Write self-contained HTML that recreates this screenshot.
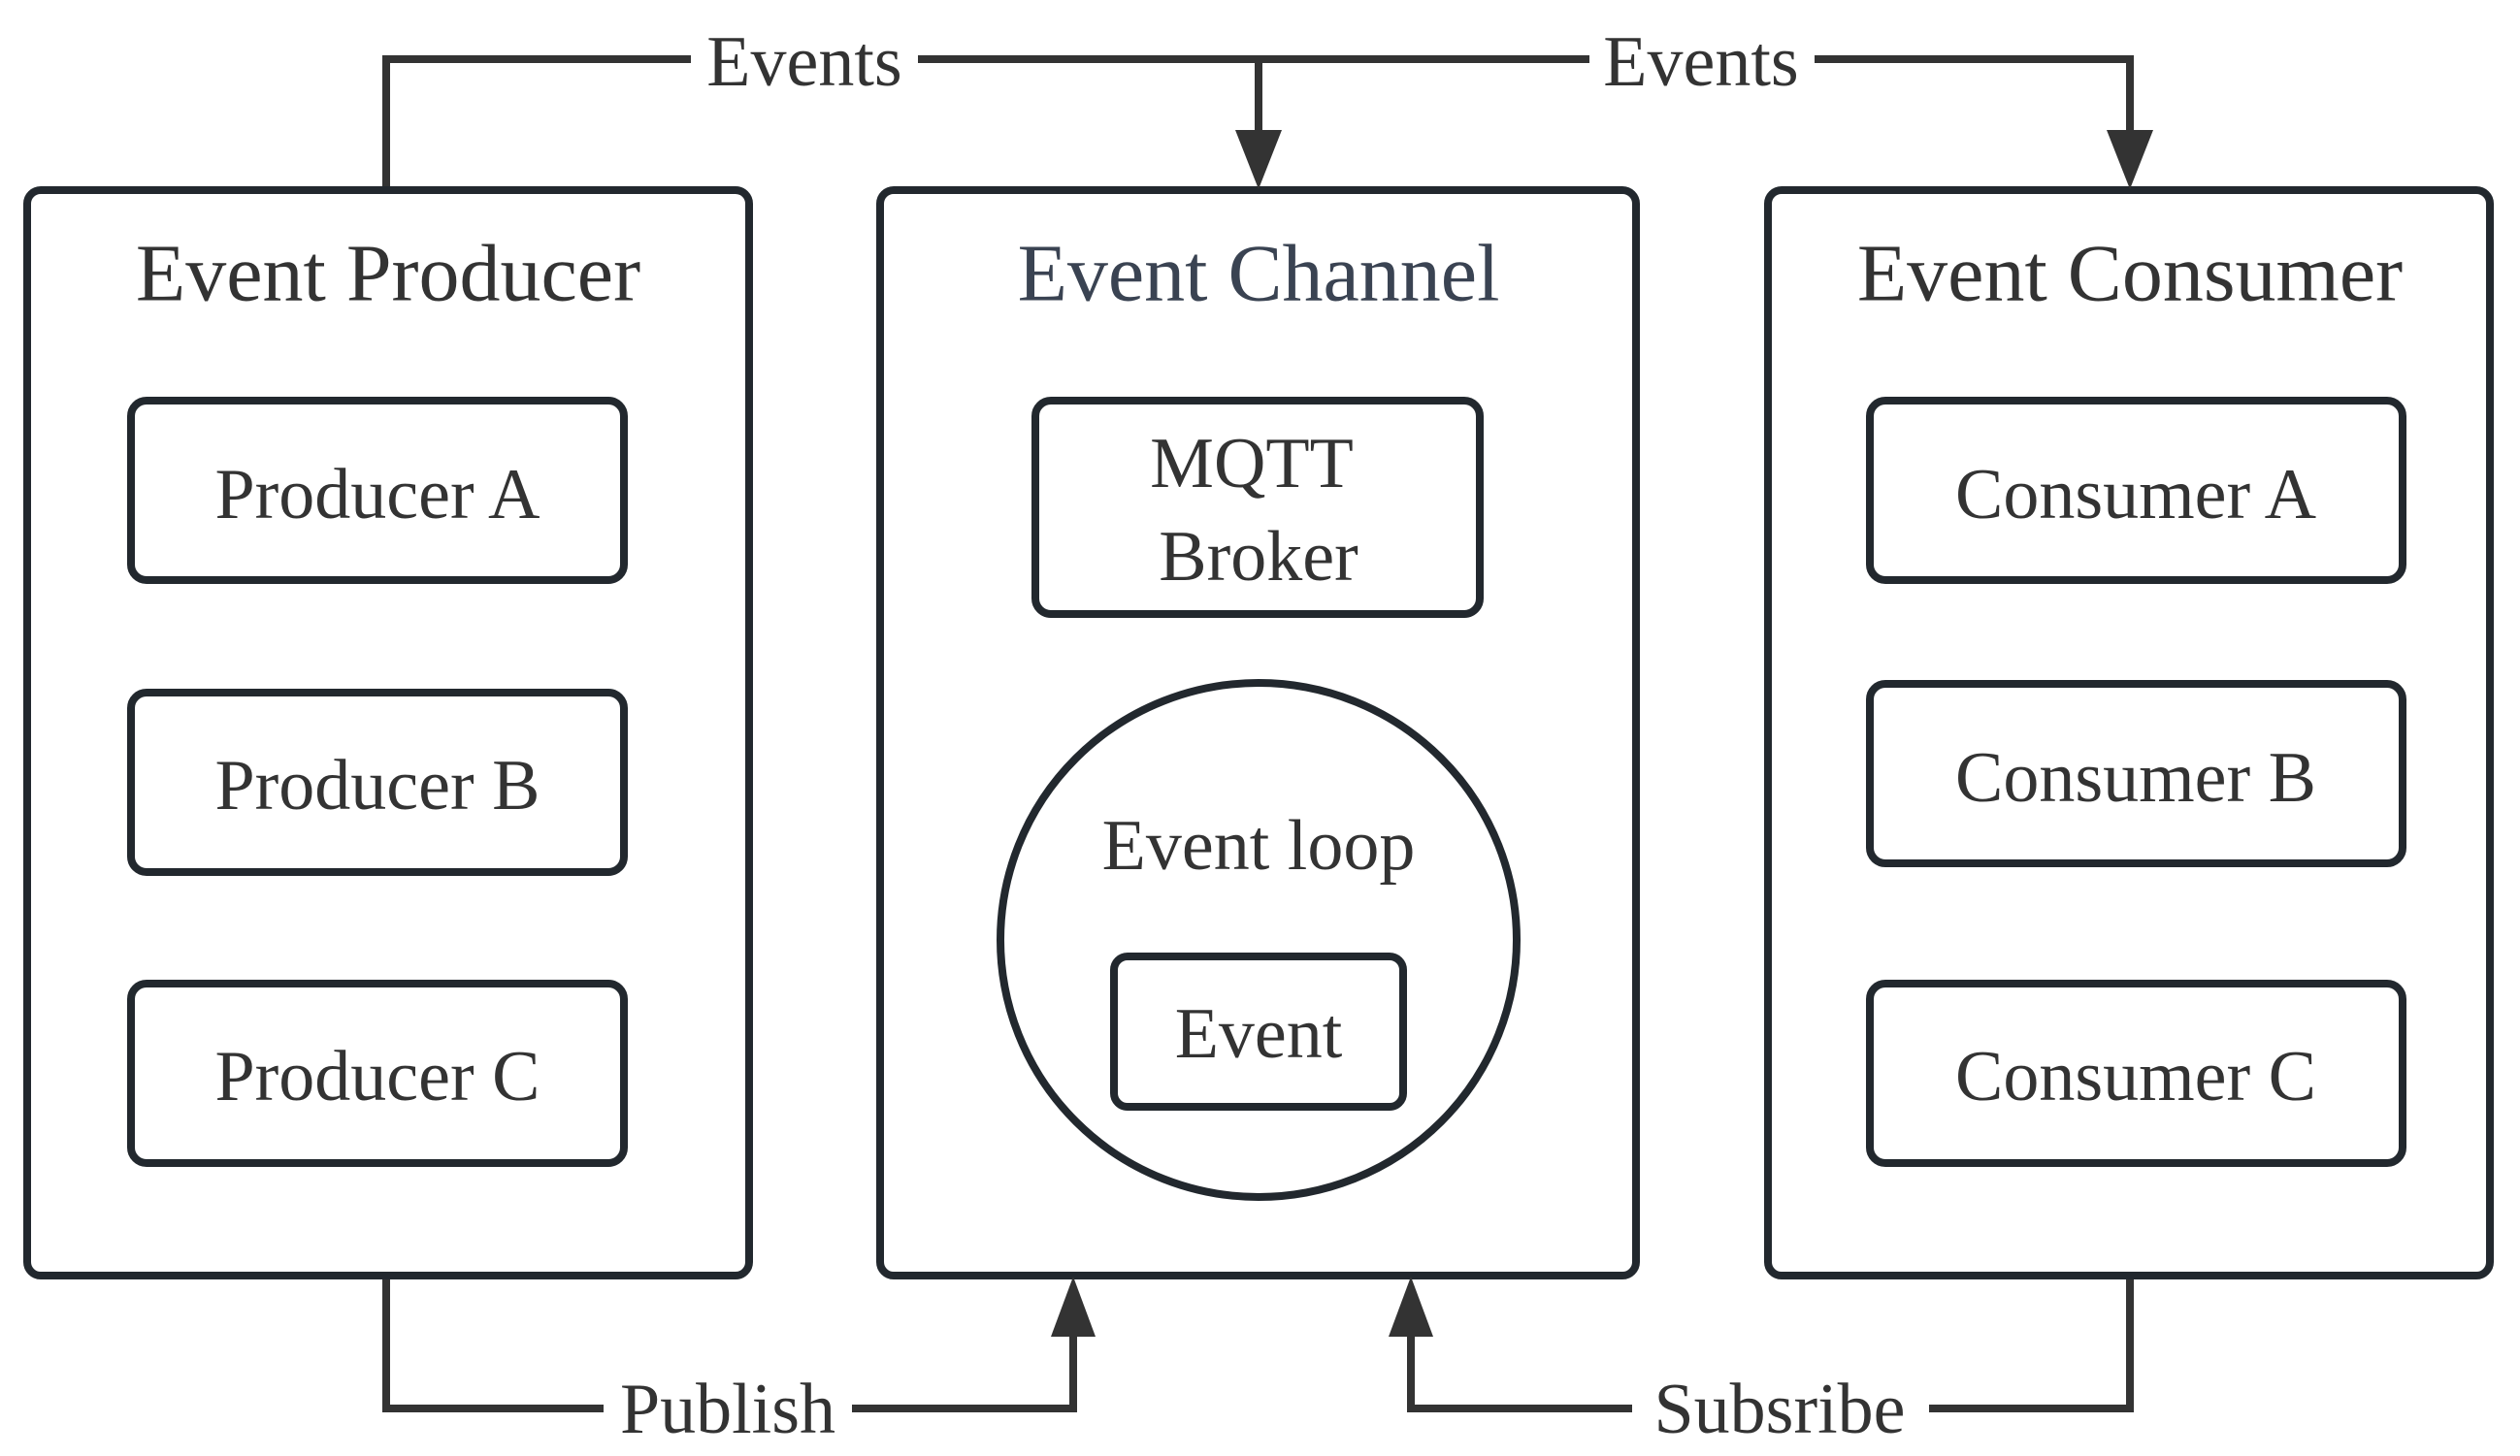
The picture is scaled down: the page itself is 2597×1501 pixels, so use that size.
<!DOCTYPE html>
<html><head><meta charset="utf-8"><style>
html,body{margin:0;padding:0;background:#fff;}
svg{display:block;}
text{font-family:"Liberation Serif","Times New Roman","DejaVu Serif",serif;fill:#333;text-anchor:middle;dominant-baseline:central;}
</style></head><body>
<svg width="2597" height="1501" viewBox="0 0 2597 1501" xmlns="http://www.w3.org/2000/svg">
<g fill="none" stroke="#22282e" stroke-width="8">
<rect x="28" y="196" width="744" height="1119" rx="14"/>
<rect x="907" y="196" width="779" height="1119" rx="14"/>
<rect x="1822" y="196" width="744" height="1119" rx="14"/>
<rect x="135" y="413" width="508" height="185" rx="16"/>
<rect x="135" y="714" width="508" height="185" rx="16"/>
<rect x="135" y="1014" width="508" height="185" rx="16"/>
<rect x="1927" y="413" width="549" height="185" rx="16"/>
<rect x="1927" y="705" width="549" height="185" rx="16"/>
<rect x="1927" y="1014" width="549" height="185" rx="16"/>
<rect x="1067" y="413" width="458" height="220" rx="16"/>
<ellipse cx="1297" cy="969" rx="266" ry="265"/>
<rect x="1148" y="986" width="298" height="155" rx="14"/>
</g>
<g fill="none" stroke="#333" stroke-width="8">
<polyline points="398,192 398,61 712,61"/>
<polyline points="946,61 1638,61"/>
<line x1="1297" y1="61" x2="1297" y2="140"/>
<polyline points="1870,61 2195,61 2195,140"/>
<polyline points="398,1319 398,1452 622,1452"/>
<polyline points="878,1452 1106,1452 1106,1370"/>
<polyline points="2195,1319 2195,1452 1988,1452"/>
<polyline points="1682,1452 1454,1452 1454,1370"/>
</g>
<g fill="#333">
<polygon points="1273,134 1321,134 1297,195"/>
<polygon points="2171,134 2219,134 2195,195"/>
<polygon points="1083,1378 1129,1378 1106,1316"/>
<polygon points="1431,1378 1477,1378 1454,1316"/>
</g>
<text x="400" y="282" font-size="84">Event Producer</text>
<text x="1297" y="282" font-size="84" style="fill:#3a4352">Event Channel</text>
<text x="2195" y="282" font-size="84">Event Consumer</text>
<text x="389" y="510" font-size="74">Producer A</text>
<text x="389" y="810" font-size="74">Producer B</text>
<text x="389" y="1110" font-size="74">Producer C</text>
<text x="2201" y="510" font-size="74">Consumer A</text>
<text x="2201" y="802" font-size="74">Consumer B</text>
<text x="2201" y="1110" font-size="74">Consumer C</text>
<text x="1290" y="478" font-size="74">MQTT</text>
<text x="1297" y="574" font-size="74">Broker</text>
<text x="1297" y="872" font-size="74">Event loop</text>
<text x="1297" y="1066" font-size="74">Event</text>
<text x="829" y="64" font-size="74">Events</text>
<text x="1753" y="64" font-size="74">Events</text>
<text x="750" y="1453" font-size="74">Publish</text>
<text x="1834" y="1453" font-size="74">Subsribe</text>
</svg>
</body></html>
